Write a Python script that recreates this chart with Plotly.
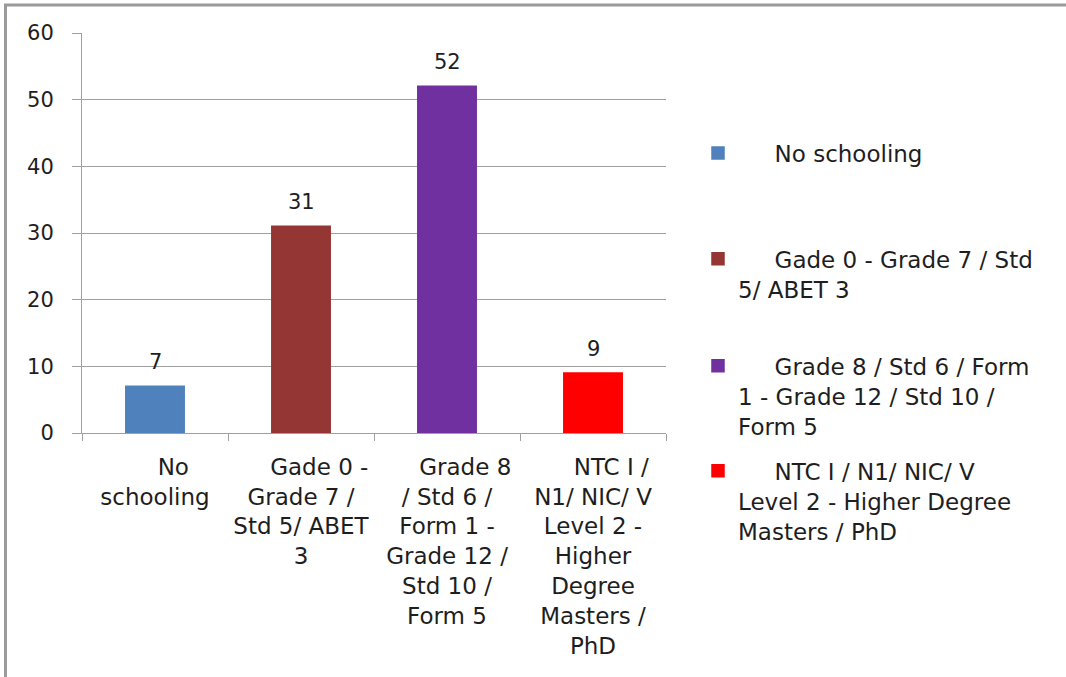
import plotly.graph_objects as go

NB = "\u00a0"

categories = [
    "No schooling",
    "Gade 0 - Grade 7 / Std 5/ ABET 3",
    "Grade 8 / Std 6 / Form 1 - Grade 12 / Std 10 / Form 5",
    "NTC I / N1/ NIC/ V Level 2 - Higher Degree Masters / PhD",
]
values = [7, 31, 52, 9]
colors = ["#4F81BD", "#943634", "#7030A0", "#FF0000"]

tick_labels = [
    NB * 5 + "No<br>schooling",
    NB * 5 + "Gade 0 -<br>Grade 7 /<br>Std 5/ ABET<br>3",
    NB * 5 + "Grade 8<br>/ Std 6 /<br>Form 1 -<br>Grade 12 /<br>Std 10 /<br>Form 5",
    NB * 5 + "NTC I /<br>N1/ NIC/ V<br>Level 2 -<br>Higher<br>Degree<br>Masters /<br>PhD",
]
legend_lines = [
    [NB * 5 + "No schooling"],
    [NB * 5 + "Gade 0 - Grade 7 / Std", "5/ ABET 3"],
    [NB * 5 + "Grade 8 / Std 6 / Form", "1 - Grade 12 / Std 10 /", "Form 5"],
    [NB * 5 + "NTC I / N1/ NIC/ V", "Level 2 - Higher Degree", "Masters / PhD"],
]
legend_y_px = [153, 259, 366, 471]

W, H = 1066, 677
L, R, T, B = 82, 666, 33, 433
pw, ph = R - L, B - T


def px_x(p):
    return (p - L) / pw


def px_y(p):
    return (B - p) / ph


FONT = "DejaVu Sans"
TXT = "#1e1e1e"
GRID = "#a0a0a0"

fig = go.Figure()
legend_keys = ["legend", "legend2", "legend3", "legend4"]
for i, (cat, v, c) in enumerate(zip(categories, values, colors)):
    lines = legend_lines[i]
    padded = [NB] * (len(lines) - 1) + lines
    fig.add_trace(go.Bar(
        x=[tick_labels[i]], y=[v], name="<br>".join(padded),
        marker=dict(color=c, line=dict(color=c, width=1.5)),
        width=0.4, legend=legend_keys[i], showlegend=True,
        hoverinfo="skip",
    ))
    fig.add_annotation(
        x=tick_labels[i], y=v, text=str(v), showarrow=False,
        yanchor="bottom", yshift=10,
        font=dict(family=FONT, size=21, color=TXT),
    )

legend_common = dict(
    font=dict(family=FONT, size=23, color=TXT),
    bgcolor="rgba(0,0,0,0)", borderwidth=0,
    xanchor="left", yanchor="middle", itemclick=False,
)
for i, key in enumerate(legend_keys):
    fig.update_layout({key: dict(x=px_x(698), y=px_y(legend_y_px[i]), **legend_common)})

fig.update_layout(
    width=W, height=H,
    margin=dict(l=L, r=W - R, t=T, b=H - B, autoexpand=False),
    paper_bgcolor="white", plot_bgcolor="white",
    barmode="overlay", showlegend=True,
    xaxis=dict(
        type="category", categoryorder="array", categoryarray=tick_labels,
        tickson="boundaries", ticks="outside", ticklen=7, tickcolor=GRID,
        showline=True, linecolor=GRID, linewidth=1, showgrid=False,
        tickfont=dict(family=FONT, size=23, color=TXT),
        ticklabelstandoff=13, fixedrange=True,
    ),
    yaxis=dict(
        range=[0, 60], dtick=10, ticks="outside", ticklen=9, tickcolor=GRID,
        showline=True, linecolor=GRID, linewidth=1,
        showgrid=True, gridcolor=GRID, gridwidth=1, zeroline=False,
        tickfont=dict(family=FONT, size=21, color=TXT),
        ticklabelstandoff=14, fixedrange=True,
    ),
)

# outer frame (top and left edges)
fig.add_shape(type="line", xref="paper", yref="paper",
              x0=px_x(4), x1=px_x(W), y0=px_y(5), y1=px_y(5),
              line=dict(color="#9a9a9a", width=3))
fig.add_shape(type="line", xref="paper", yref="paper",
              x0=px_x(5.5), x1=px_x(5.5), y0=px_y(4), y1=px_y(H),
              line=dict(color="#9a9a9a", width=3))

fig.write_html(
    "out.html",
    config={"displayModeBar": False, "staticPlot": True},
    post_script="document.body.style.margin='0';document.body.style.overflow='hidden';",
)
